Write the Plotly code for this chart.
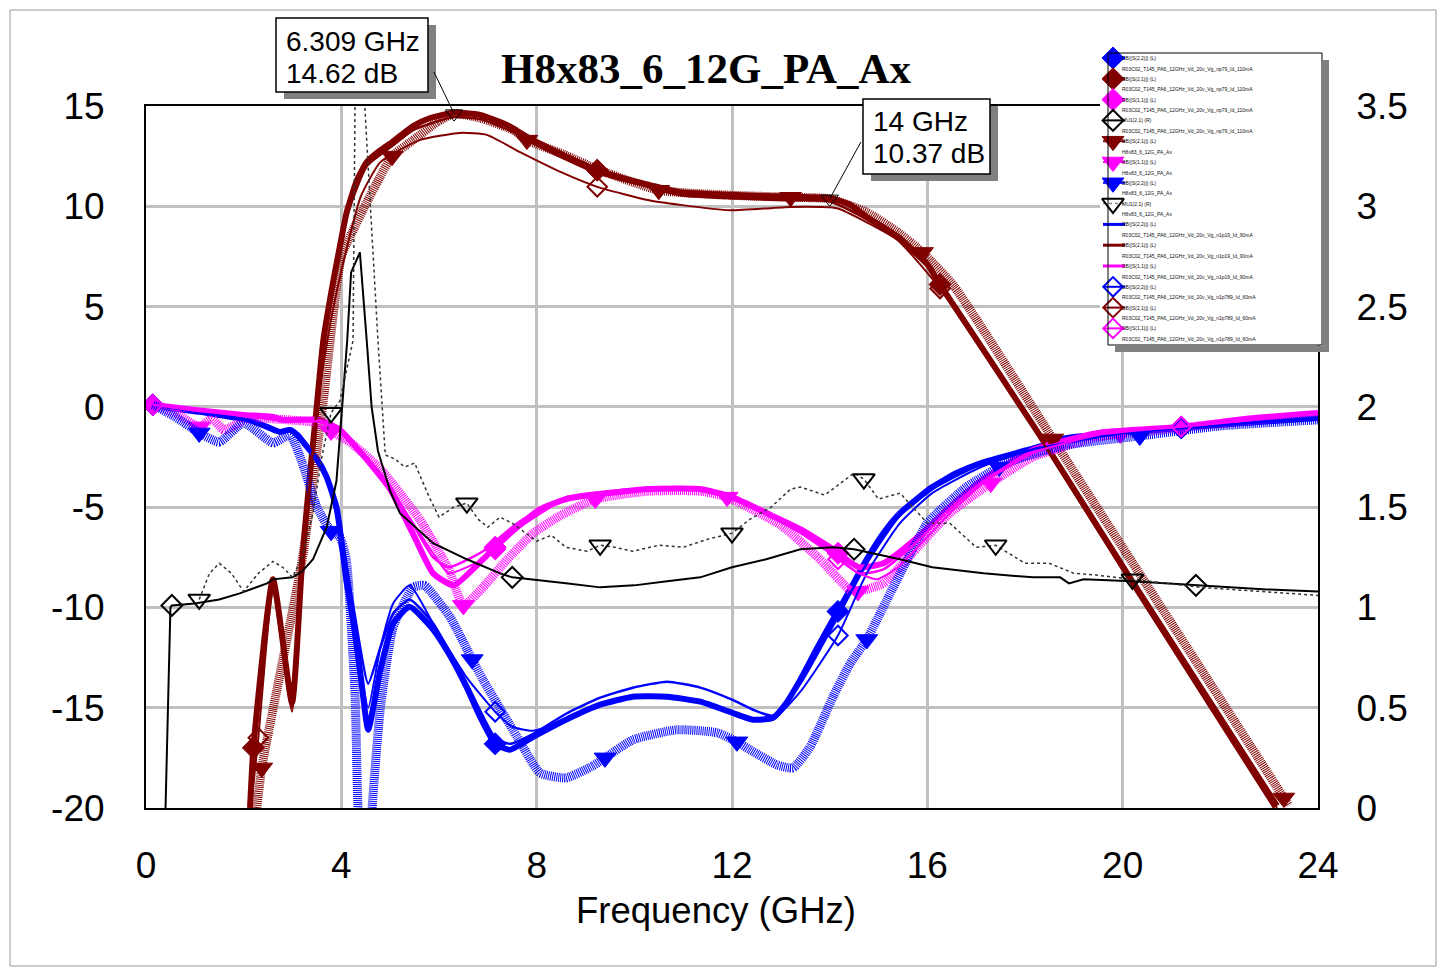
import numpy as np
import plotly.graph_objects as go

W, H = 1446, 969
PX0, PX1, PY0, PY1 = 146, 1318, 106, 808   # plot area in page pixels (left, right, top, bottom)

# ---------------- axis ticks ----------------
x_tick_vals = [0, 4, 8, 12, 16, 20, 24]
x_tick_text = ['0', '4', '8', '12', '16', '20', '24']
y_tick_vals = [-20, -15, -10, -5, 0, 5, 10, 15]
y_tick_text = ['-20', '-15', '-10', '-5', '0', '5', '10', '15']
y2_tick_vals = [0, 0.5, 1, 1.5, 2, 2.5, 3, 3.5]
y2_tick_text = ['0', '0.5', '1', '1.5', '2', '2.5', '3', '3.5']
X_RANGE = [0, 24]
Y_RANGE = [-20, 15]
Y2_RANGE = [0, 3.5]

# ---------------- measured, Vg -0.79 / 110 mA ----------------
s22_m110_f = [0.14, 0.6, 1.1, 1.6, 2.1, 2.48, 2.74, 2.95, 3.1, 3.3, 3.5, 3.7, 3.9, 3.97, 4.1, 4.25, 4.4, 4.55, 4.8,
              5.06, 5.4, 5.88, 6.2, 6.57, 6.85, 7.15, 7.45, 7.93, 8.6, 9.3, 9.97, 10.67, 11.35, 12.0, 12.43, 12.84,
              13.1, 13.4, 13.75, 14.07, 14.17, 14.42, 14.76, 15.1, 15.44, 16.1, 16.6, 17.1, 18.2, 18.86, 19.9,
              21.2, 22.5, 24.0]
s22_m110 = [0.1, -0.1, -0.25, -0.45, -0.65, -1.0, -1.25, -1.15, -1.4, -2.0, -2.6, -3.5, -5.0, -6.1, -8.6, -10.8,
            -13.5, -16.1, -13.1, -10.8, -9.97, -11.1, -12.3, -14.0, -15.5, -16.8, -17.1, -16.45, -15.6, -14.85,
            -14.45, -14.45, -14.7, -15.25, -15.6, -15.5, -14.8, -13.6, -12.0, -10.6, -10.2, -9.1, -7.6, -6.3,
            -5.3, -4.0, -3.3, -2.8, -2.05, -1.55, -1.3, -1.05, -0.8, -0.55]
s22_m110_mk = [0.14, 7.15, 14.17, 21.2]

s21_m110_f = [2.13, 2.2, 2.6, 2.99, 3.2, 3.36, 3.48, 3.63, 3.83, 3.97, 4.11, 4.32, 4.52, 4.8, 5.04, 5.47, 5.82,
              6.29, 6.84, 7.39, 7.8, 8.54, 9.24, 9.91, 10.3, 10.94, 11.96, 13.2, 14.0, 14.4, 14.76, 15.4, 16.0,
              16.26, 18.27, 20.17, 23.16]
s21_m110 = [-20.0, -17.0, -8.6, -14.75, -7.6, -3.3, -0.4, 3.3, 6.2, 8.0, 9.7, 11.3, 12.2, 12.8, 13.2, 14.0,
            14.4, 14.66, 14.56, 14.06, 13.46, 12.56, 11.8, 11.3, 11.07, 10.7, 10.57, 10.47, 10.42, 10.1, 9.47,
            8.47, 7.1, 6.1, -1.3, -8.6, -19.9]
s21_m110_mk = [2.2, 9.24, 16.26]

s11_m110_f = [0.14, 1.0, 2.0, 2.6, 2.8, 3.56, 3.97, 4.3, 4.65, 5.0, 5.5, 5.88, 6.3, 6.9, 7.15, 7.6, 8.07, 8.6,
              9.1, 10.3, 11.35, 12.0, 12.8, 13.4, 14.07, 14.17, 14.6, 15.1, 15.8, 16.46, 17.15, 18.16, 19.5,
              21.2, 22.5, 24.0]
s11_m110 = [0.1, -0.15, -0.4, -0.5, -0.65, -0.65, -1.15, -2.0, -3.0, -4.1, -6.5, -8.3, -8.9, -7.6, -7.0, -6.0,
            -5.1, -4.6, -4.4, -4.1, -4.1, -4.5, -5.4, -6.1, -7.1, -7.3, -8.0, -7.8, -6.5, -5.0, -3.6, -2.15,
            -1.3, -1.0, -0.6, -0.3]
s11_m110_mk = [0.14, 7.15, 14.17, 21.2]

mu_m110_f = [0.4, 0.5, 0.53, 1.0, 1.5, 1.92, 2.48, 2.6, 3.0, 3.2, 3.42, 3.7, 3.9, 4.05, 4.12, 4.2, 4.38, 4.52,
             4.62, 4.75, 5.0, 5.2, 5.88, 6.57, 7.25, 7.5, 7.9, 8.6, 9.3, 10.0, 10.67, 11.35, 12.0, 12.7, 13.4,
             14.07, 14.5, 15.44, 16.1, 17.15, 18.16, 18.72, 18.9, 19.2, 20.2, 21.5, 22.95, 24.0]
mu_m110 = [0.0, 1.0, 1.01, 1.02, 1.04, 1.07, 1.12, 1.14, 1.15, 1.18, 1.24, 1.40, 1.63, 2.13, 2.33, 2.67, 2.77,
           2.33, 2.0, 1.78, 1.58, 1.47, 1.32, 1.24, 1.17, 1.15, 1.14, 1.12, 1.10, 1.11, 1.13, 1.15, 1.20, 1.24,
           1.29, 1.30, 1.29, 1.24, 1.20, 1.17, 1.15, 1.15, 1.12, 1.14, 1.13, 1.11, 1.09, 1.08]
mu_m110_mk = [0.53, 7.5, 14.5, 21.5]

# ---------------- simulation H8x83_6_12G_PA_Ax ----------------
s21_sim_f = [2.27, 2.37, 3.2, 3.63, 4.0, 4.22, 4.52, 4.8, 5.04, 5.47, 5.96, 6.309, 6.84, 7.52, 7.8, 8.54, 9.24,
             10.5, 11.96, 13.2, 14.0, 14.76, 15.4, 15.9, 16.55, 18.57, 20.42, 23.3, 23.4]
s21_sim = [-20.0, -18.0, -7.6, 0.3, 7.5, 8.7, 10.2, 11.5, 12.5, 13.3, 14.2, 14.62, 14.4, 13.8, 13.3, 12.6, 11.85,
           10.8, 10.55, 10.45, 10.37, 9.7, 8.7, 7.7, 6.0, -1.6, -8.6, -19.5, -19.9]
s21_sim_mk = [2.37, 5.04, 7.8, 10.5, 13.2, 15.9, 18.57, 23.3]

s11_sim_f = [0.14, 0.6, 1.09, 1.35, 1.6, 2.1, 2.6, 3.2, 3.5, 3.79, 4.2, 4.8, 5.6, 6.2, 6.5, 6.9, 7.4, 7.93, 8.5,
             9.2, 10.3, 11.35, 11.9, 13.0, 13.8, 14.4, 14.58, 15.1, 15.8, 16.46, 17.3, 18.16, 19.5, 19.95, 21.2,
             22.5, 24.0]
s11_sim = [0.1, -0.3, -1.0, -0.6, -1.15, -0.55, -0.6, -0.7, -0.8, -1.2, -1.8, -3.1, -5.6, -8.1, -9.9, -9.0, -7.6,
           -6.3, -5.4, -4.6, -4.2, -4.2, -4.5, -5.9, -7.6, -9.1, -9.2, -8.8, -7.0, -5.3, -3.8, -2.5, -1.5, -1.35,
           -1.05, -0.7, -0.4]
s11_sim_mk = [1.09, 3.79, 6.5, 9.2, 11.9, 14.58, 17.3, 19.95]

s22_sim_f = [0.14, 0.6, 1.09, 1.5, 2.0, 2.6, 2.95, 3.2, 3.5, 3.79, 3.97, 4.1, 4.28, 4.34, 4.45, 4.55, 4.63, 4.8,
             5.06, 5.47, 5.7, 6.23, 6.68, 6.9, 7.6, 8.07, 8.6, 9.15, 9.4, 9.97, 10.87, 11.7, 12.1, 12.37, 12.92,
             13.25, 13.6, 14.07, 14.42, 14.76, 15.3, 16.0, 16.8, 17.47, 17.85, 18.86, 20.35, 22.0, 24.0]
s22_sim = [0.1, -0.5, -1.3, -1.75, -0.8, -1.8, -1.4, -2.8, -5.0, -6.2, -6.5, -7.6, -14.3, -20.0, -25.0, -24.0,
           -20.0, -15.0, -11.0, -9.0, -8.9, -10.5, -12.6, -13.6, -16.45, -18.25, -18.5, -17.9, -17.5, -16.6, -16.1,
           -16.25, -16.7, -17.1, -17.85, -18.0, -16.95, -14.45, -12.8, -11.6, -9.0, -5.8, -4.0, -3.0, -2.6, -1.9,
           -1.45, -0.95, -0.65]
s22_sim_mk = [1.09, 3.79, 6.68, 9.4, 12.1, 14.76, 17.47, 20.35]

mu_sim_f = [1.09, 1.3, 1.5, 1.75, 2.0, 2.3, 2.6, 2.8, 3.0, 3.2, 3.42, 3.6, 3.79, 3.97, 4.24, 4.32, 4.4, 4.48, 4.75,
            4.9, 5.1, 5.3, 5.5, 5.8, 6.0, 6.3, 6.57, 6.8, 7.0, 7.25, 7.5, 8.0, 8.3, 8.6, 9.03, 9.3, 9.6, 9.97,
            10.5, 11.0, 11.5, 12.0, 12.37, 12.8, 13.2, 13.4, 13.9, 14.5, 14.7, 15.0, 15.44, 16.0, 16.46, 17.0,
            17.4, 18.0, 18.5, 19.0, 19.5, 20.2, 21.6, 24.0]
mu_sim = [1.04, 1.17, 1.22, 1.17, 1.08, 1.17, 1.23, 1.2, 1.15, 1.25, 1.47, 1.75, 1.97, 2.03, 2.33, 3.5, 7.0, 3.5,
          2.33, 1.76, 1.74, 1.70, 1.72, 1.55, 1.45, 1.50, 1.52, 1.44, 1.40, 1.45, 1.42, 1.33, 1.36, 1.30, 1.28,
          1.31, 1.30, 1.28, 1.31, 1.30, 1.34, 1.37, 1.44, 1.50, 1.59, 1.60, 1.56, 1.67, 1.64, 1.54, 1.57, 1.42,
          1.42, 1.30, 1.31, 1.22, 1.22, 1.17, 1.16, 1.14, 1.10, 1.06]
mu_sim_mk = [1.09, 3.79, 6.57, 9.3, 12.0, 14.7, 17.4, 20.2]

# ---------------- measured, Vg -1.19 / 90 mA ----------------
s22_m90_f = [0.14, 1.1, 2.1, 2.74, 2.95, 3.3, 3.7, 3.97, 4.25, 4.55, 4.8, 5.06, 5.4, 5.88, 6.57, 7.15, 7.45,
             7.93, 8.6, 9.3, 9.97, 10.67, 11.35, 12.0, 12.43, 12.84, 13.4, 14.07, 14.76, 15.44, 16.1, 17.1, 18.2,
             19.9, 21.2, 24.0]
s22_m90 = [0.1, -0.25, -0.65, -1.2, -1.1, -1.9, -3.4, -5.9, -10.0, -13.8, -12.0, -10.3, -9.6, -10.8, -13.8, -16.5,
           -16.8, -16.3, -15.3, -14.5, -14.0, -13.7, -14.0, -14.6, -15.1, -15.4, -13.8, -10.9, -7.8, -5.4, -4.1,
           -2.85, -2.1, -1.3, -1.05, -0.55]

s21_m90_f = [2.13, 2.2, 2.6, 2.99, 3.2, 3.48, 3.63, 3.97, 4.11, 4.52, 5.04, 5.47, 6.29, 6.84, 7.39, 7.8, 8.54,
             9.24, 10.3, 10.94, 11.96, 13.2, 14.0, 14.76, 15.4, 16.0, 16.3, 18.27, 20.17, 23.1]
s21_m90 = [-20.0, -17.2, -9.0, -15.0, -8.0, -0.8, 3.0, 7.8, 9.5, 12.0, 13.0, 13.8, 14.45, 14.35, 13.85, 13.3,
           12.4, 11.65, 10.95, 10.55, 10.4, 10.3, 10.25, 9.35, 8.35, 7.0, 6.0, -1.4, -8.8, -20.0]

s11_m90_f = [0.14, 1.0, 2.0, 2.8, 3.56, 3.97, 4.65, 5.0, 5.5, 5.88, 6.2, 6.9, 7.6, 8.6, 10.3, 11.35, 12.0, 12.8,
             13.4, 14.07, 14.6, 15.1, 15.8, 16.46, 17.15, 18.16, 19.5, 21.2, 24.0]
s11_m90 = [0.1, -0.15, -0.4, -0.65, -0.7, -1.2, -3.0, -4.0, -6.0, -7.5, -8.0, -7.2, -5.8, -4.5, -4.05, -4.1, -4.5,
           -5.4, -6.2, -7.3, -8.3, -8.1, -6.7, -5.1, -3.7, -2.2, -1.35, -1.0, -0.3]

# ---------------- measured, Vg -1.789 / 60 mA ----------------
s22_m60_f = [0.14, 1.1, 2.1, 2.74, 2.95, 3.3, 3.7, 3.97, 4.25, 4.55, 4.8, 5.06, 5.4, 5.88, 6.57, 7.15, 7.5, 7.93,
             8.6, 9.3, 9.97, 10.67, 11.35, 12.0, 12.43, 12.84, 13.4, 14.17, 14.76, 15.44, 16.1, 17.1, 18.2, 19.9,
             21.2, 24.0]
s22_m60 = [0.1, -0.3, -0.7, -1.3, -1.2, -2.1, -3.6, -6.2, -10.5, -15.0, -12.0, -9.8, -8.9, -10.8, -13.5, -15.2,
           -15.95, -16.15, -15.6, -14.9, -14.5, -14.5, -14.75, -15.3, -15.65, -15.6, -14.2, -11.4, -8.3, -5.8,
           -4.3, -3.0, -2.1, -1.35, -1.05, -0.55]
s22_m60_mk = [0.14, 7.15, 14.17, 21.2]

s21_m60_f = [2.15, 2.3, 2.6, 2.99, 3.2, 3.5, 3.8, 4.04, 4.4, 4.8, 5.6, 6.43, 6.98, 7.66, 8.5, 9.24, 10.3, 10.94,
             11.96, 13.2, 14.15, 14.76, 15.4, 16.26, 18.27, 20.17, 23.16]
s21_m60 = [-20.0, -16.5, -9.2, -15.2, -8.2, 0.0, 4.5, 7.2, 10.5, 12.2, 13.3, 13.66, 13.56, 12.7, 11.7, 10.97,
           10.3, 10.07, 9.8, 9.97, 9.9, 9.2, 8.3, 5.9, -1.4, -8.7, -20.0]
s21_m60_mk = [2.3, 9.24, 16.26]

s11_m60_f = [0.14, 1.0, 2.0, 2.8, 3.56, 3.97, 4.65, 5.0, 5.5, 5.88, 6.2, 6.9, 7.15, 7.6, 8.6, 10.3, 11.35, 12.0,
             12.8, 13.4, 14.07, 14.17, 14.6, 14.97, 15.4, 15.8, 16.46, 17.15, 18.16, 19.5, 21.2, 24.0]
s11_m60 = [0.1, -0.2, -0.45, -0.7, -0.75, -1.25, -3.1, -4.1, -5.9, -7.3, -8.3, -7.6, -7.1, -6.1, -4.6, -4.1,
           -4.15, -4.55, -5.5, -6.3, -7.4, -7.6, -8.3, -8.6, -8.0, -7.0, -5.3, -3.8, -2.3, -1.4, -1.0, -0.35]
s11_m60_mk = [0.14, 7.15, 14.17, 21.2]

# ---------------- marker read-outs ----------------
readout_f = [6.309, 14.0]
readout_db = [14.62, 10.37]
readout_line1 = ['6.309 GHz', '14 GHz']
readout_line2 = ['14.62 dB', '10.37 dB']

# ---------------- legend ----------------
legend_line1 = ['DB(|S(2,2)|) (L)', 'DB(|S(2,1)|) (L)', 'DB(|S(1,1)|) (L)', 'MU1(2,1) (R)',
                'DB(|S(2,1)|) (L)', 'DB(|S(1,1)|) (L)', 'DB(|S(2,2)|) (L)', 'MU1(2,1) (R)',
                'DB(|S(2,2)|) (L)', 'DB(|S(2,1)|) (L)', 'DB(|S(1,1)|) (L)',
                'DB(|S(2,2)|) (L)', 'DB(|S(2,1)|) (L)', 'DB(|S(1,1)|) (L)']
ds_110 = 'R03C02_T145_PA6_12GHz_Vd_20v_Vg_np79_Id_110mA'
ds_sim = 'H8x83_6_12G_PA_Ax'
ds_90 = 'R03C02_T145_PA6_12GHz_Vd_20v_Vg_n1p19_Id_90mA'
ds_60 = 'R03C02_T145_PA6_12GHz_Vd_20v_Vg_n1p789_Id_60mA'
legend_line2 = [ds_110] * 4 + [ds_sim] * 4 + [ds_90] * 3 + [ds_60] * 3

title_text = 'H8x83_6_12G_PA_Ax'
xlabel_text = 'Frequency (GHz)'

# ---------------- styles ----------------
BLUE, RED, MAG, BLK = '#0000ff', '#800000', '#ff00ff', '#000000'
HATCH = '1px,1px'
ST = {
    'm110': dict(width=6, dash='solid', symbol='diamond', msize=17, mlw=1),
    'sim': dict(width=9, dash=HATCH, symbol='triangle-down', msize=19, mlw=1),
    'm90': dict(width=2.5, dash='solid', symbol=None, msize=0, mlw=0),
    'm60': dict(width=2, dash='solid', symbol='diamond-open', msize=15, mlw=2),
    'mu110': dict(width=2, dash='solid', symbol='diamond-open', msize=16, mlw=2),
    'musim': dict(width=1.5, dash='dot', symbol='triangle-down-open', msize=19, mlw=2),
}

fig = go.Figure()


def add(f, v, mk, color, style, yaxis='y', lcolor=None, shape='spline'):
    s = ST[style]
    f = np.asarray(f, float)
    v = np.asarray(v, float)
    fig.add_trace(go.Scatter(x=f, y=v, mode='lines', xaxis='x', yaxis=yaxis, hoverinfo='skip',
                             line=dict(color=lcolor or color, width=s['width'], dash=s['dash'],
                                       shape=shape, smoothing=0.5)))
    if s['symbol'] and mk:
        sel = np.isin(np.round(f, 3), np.round(np.asarray(mk, float), 3))
        fig.add_trace(go.Scatter(x=f[sel], y=v[sel], mode='markers', xaxis='x', yaxis=yaxis, hoverinfo='skip',
                                 marker=dict(symbol=s['symbol'], size=s['msize'], color=color,
                                             line=dict(color=color, width=s['mlw']))))


# drawing order follows the legend order
add(s22_m110_f, s22_m110, s22_m110_mk, BLUE, 'm110')
add(s21_m110_f, s21_m110, s21_m110_mk, RED, 'm110')
add(s11_m110_f, s11_m110, s11_m110_mk, MAG, 'm110')
add(mu_m110_f, mu_m110, mu_m110_mk, BLK, 'mu110', yaxis='y2', shape='linear')
add(s21_sim_f, s21_sim, s21_sim_mk, RED, 'sim')
add(s11_sim_f, s11_sim, s11_sim_mk, MAG, 'sim')
add(s22_sim_f, s22_sim, s22_sim_mk, BLUE, 'sim')
add(mu_sim_f, mu_sim, mu_sim_mk, BLK, 'musim', yaxis='y2', lcolor='#333333', shape='linear')
add(s22_m90_f, s22_m90, None, BLUE, 'm90')
add(s21_m90_f, s21_m90, None, RED, 'm90')
add(s11_m90_f, s11_m90, None, MAG, 'm90')
add(s22_m60_f, s22_m60, s22_m60_mk, BLUE, 'm60')
add(s21_m60_f, s21_m60, s21_m60_mk, RED, 'm60')
add(s11_m60_f, s11_m60, s11_m60_mk, MAG, 'm60')

# read-out markers
fig.add_trace(go.Scatter(x=readout_f, y=readout_db, mode='markers', xaxis='x', yaxis='y', hoverinfo='skip',
                         marker=dict(symbol='triangle-down-open', size=15, color=BLK,
                                     line=dict(width=1, color=BLK))))

# ---------------- custom legend glyphs (legend subplot x3/y3, 1 unit = 1 px) ----------------
leg_style = [('m110', BLUE), ('m110', RED), ('m110', MAG), ('mu110', BLK),
             ('sim', RED), ('sim', MAG), ('sim', BLUE), ('musim', BLK),
             ('m90', BLUE), ('m90', RED), ('m90', MAG),
             ('m60', BLUE), ('m60', RED), ('m60', MAG)]
LEG_Y0, LEG_DY, LEG_MX = 58.0, 20.8, 1113
for i, (sty, col) in enumerate(leg_style):
    s = ST[sty]
    yy = LEG_Y0 + LEG_DY * i
    lw = 3 if sty in ('m90', 'm110') else (1.5 if sty == 'musim' else 2)
    lc = '#888888' if sty == 'musim' else col
    fig.add_trace(go.Scatter(x=[1103, 1125], y=[yy, yy], mode='lines', xaxis='x3', yaxis='y3', hoverinfo='skip',
                             line=dict(color=lc, width=lw, dash='dot' if sty == 'musim' else 'solid')))
    if s['symbol']:
        fig.add_trace(go.Scatter(x=[LEG_MX], y=[yy], mode='markers', xaxis='x3', yaxis='y3', hoverinfo='skip',
                                 cliponaxis=False,
                                 marker=dict(symbol=s['symbol'], size=s['msize'], color=col,
                                             line=dict(color=col, width=s['mlw']))))

annotations = []
for i in range(len(legend_line1)):
    yy = LEG_Y0 + LEG_DY * i
    annotations.append(dict(x=1120, y=yy, xref='x3', yref='y3', text=legend_line1[i], showarrow=False,
                            xanchor='left', yanchor='middle',
                            font=dict(family='Liberation Sans', size=5, color='#111111')))
    annotations.append(dict(x=1120, y=yy + 10.5, xref='x3', yref='y3', text=legend_line2[i], showarrow=False,
                            xanchor='left', yanchor='middle',
                            font=dict(family='Liberation Sans', size=5, color='#111111')))


def px(x, y):
    """page pixel -> paper fraction"""
    return x / W, 1 - y / H


# read-out boxes: (left, top, right, bottom) in page px, leader-line tail (px)
readout_box = [(276, 18, 428, 92), (863, 99, 990, 174)]
readout_tail = [(433, 70), (862, 140)]
SHADOW = 8
shapes = [
    # page frame
    dict(type='rect', xref='paper', yref='paper', x0=px(10, 0)[0], x1=px(1436, 0)[0],
         y0=px(0, 966)[1], y1=px(0, 10)[1], line=dict(color='#999999', width=1), layer='below'),
]
for (l, t, r, b), txt1, txt2 in zip(readout_box, readout_line1, readout_line2):
    shapes.append(dict(type='rect', xref='paper', yref='paper', x0=px(l + SHADOW, 0)[0], x1=px(r + SHADOW, 0)[0],
                       y0=px(0, b + SHADOW - 1)[1], y1=px(0, t + SHADOW - 1)[1], fillcolor='#808080',
                       line=dict(width=0), layer='above'))
    shapes.append(dict(type='rect', xref='paper', yref='paper', x0=px(l, 0)[0], x1=px(r, 0)[0],
                       y0=px(0, b)[1], y1=px(0, t)[1], fillcolor='white',
                       line=dict(color='black', width=1.5), layer='above'))
    annotations.append(dict(x=px(l + 8, 0)[0], y=px(0, t + 23)[1], xref='paper', yref='paper', text=txt1,
                            showarrow=False, xanchor='left', yanchor='middle',
                            font=dict(family='Liberation Sans', size=28, color='black')))
    annotations.append(dict(x=px(l + 8, 0)[0], y=px(0, t + 55)[1], xref='paper', yref='paper', text=txt2,
                            showarrow=False, xanchor='left', yanchor='middle',
                            font=dict(family='Liberation Sans', size=28, color='black')))

# leader lines from the read-out boxes to the marker points
for fx, fy, (tx, ty) in zip(readout_f, readout_db, readout_tail):
    hx = PX0 + (fx - X_RANGE[0]) / (X_RANGE[1] - X_RANGE[0]) * (PX1 - PX0)
    hy = PY1 - (fy - Y_RANGE[0]) / (Y_RANGE[1] - Y_RANGE[0]) * (PY1 - PY0)
    annotations.append(dict(x=fx, y=fy, xref='x', yref='y', text=' ', showarrow=True, ax=tx - hx, ay=ty - hy,
                            arrowcolor='black', arrowhead=0, arrowwidth=1, standoff=0, startstandoff=0,
                            font=dict(size=1)))

annotations.append(dict(x=px(706, 0)[0], y=px(0, 68)[1], xref='paper', yref='paper', text=title_text,
                        showarrow=False, xanchor='center', yanchor='middle',
                        font=dict(family='Liberation Serif', size=43, color='black', weight='bold')))
annotations.append(dict(x=px(716, 0)[0], y=px(0, 910)[1], xref='paper', yref='paper', text=xlabel_text,
                        showarrow=False, xanchor='center', yanchor='middle',
                        font=dict(family='Liberation Sans', size=36.5, color='black')))

# legend box border + shadow strips
shapes += [
    dict(type='rect', xref='paper', yref='paper', x0=1108 / W, x1=1322 / W, y0=1 - 345 / H, y1=1 - 53 / H,
         line=dict(color='black', width=1), layer='above'),
    dict(type='rect', xref='paper', yref='paper', x0=1322.6 / W, x1=1329 / W, y0=1 - 352 / H, y1=1 - 60 / H,
         line=dict(width=0), fillcolor='#808080', layer='above'),
    dict(type='rect', xref='paper', yref='paper', x0=1115 / W, x1=1329 / W, y0=1 - 352 / H, y1=1 - 345.6 / H,
         line=dict(width=0), fillcolor='#808080', layer='above'),
]

tickfont = dict(family='Liberation Sans', size=37, color='black')
fig.update_layout(
    template='none',
    width=W, height=H, autosize=False, margin=dict(l=0, r=0, t=0, b=0, pad=0),
    paper_bgcolor='white', plot_bgcolor='white', showlegend=False,
    xaxis=dict(domain=[PX0 / W, PX1 / W], range=X_RANGE, tickvals=x_tick_vals, ticktext=x_tick_text,
               showgrid=True, gridcolor='#c0c0c0', gridwidth=3, zeroline=False, showline=True,
               linecolor='black', linewidth=2, mirror=True, ticks='outside', ticklen=0,
               ticklabelstandoff=24, tickfont=tickfont, anchor='y', fixedrange=True, automargin=False),
    yaxis=dict(domain=[1 - PY1 / H, 1 - PY0 / H], range=Y_RANGE, tickvals=y_tick_vals, ticktext=y_tick_text,
               showgrid=True, gridcolor='#c0c0c0', gridwidth=3, zeroline=False, showline=True,
               linecolor='black', linewidth=2, mirror=True, ticks='outside', ticklen=0,
               ticklabelstandoff=32, tickfont=tickfont, anchor='x', fixedrange=True, automargin=False),
    yaxis2=dict(overlaying='y', side='right', range=Y2_RANGE, tickvals=y2_tick_vals, ticktext=y2_tick_text,
                showgrid=False, zeroline=False, showline=False, ticks='outside', ticklen=0,
                ticklabelstandoff=30, tickfont=tickfont, anchor='x', fixedrange=True, automargin=False),
    xaxis3=dict(domain=[1100 / W, 1322 / W], range=[1100, 1322], showgrid=False, zeroline=False,
                showline=False, showticklabels=False, ticks='', anchor='y3', fixedrange=True, automargin=False),
    yaxis3=dict(domain=[1 - 345 / H, 1 - 53 / H], range=[345, 53], showgrid=False, zeroline=False,
                showline=False, showticklabels=False, ticks='', anchor='x3', fixedrange=True, automargin=False),
    annotations=annotations, shapes=shapes,
)

fig.write_html('out.html')
